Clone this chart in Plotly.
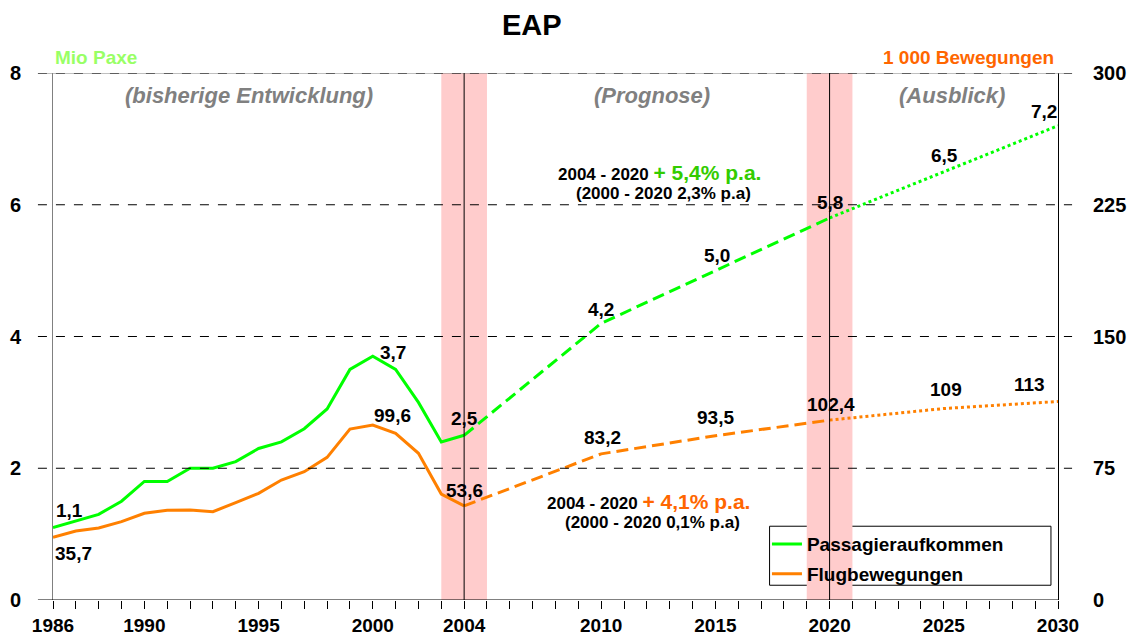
import plotly.graph_objects as go

# historische Entwicklung 1986-2004
years_hist = list(range(1986, 2005))
pax_hist = [1.1, 1.2, 1.3, 1.5, 1.8, 1.8, 2.0, 2.0, 2.1, 2.3, 2.4, 2.6, 2.9, 3.5, 3.7, 3.5, 3.0, 2.4, 2.5]
mov_hist = [35.7, 39.3, 41.0, 44.6, 49.4, 51.1, 51.2, 50.3, 55.4, 60.7, 68.3, 73.0, 81.2, 97.3, 99.6, 94.9, 83.5, 60.3, 53.6]

# Prognose 2004-2020
years_prog = [2004, 2010, 2015, 2020]
pax_prog = [2.5, 4.2, 5.0, 5.8]
mov_prog = [53.6, 83.2, 93.5, 102.4]

# Ausblick 2020-2030
years_out = [2020, 2025, 2030]
pax_out = [5.8, 6.5, 7.2]
mov_out = [102.4, 109, 113]

tick_years = [1986, 1990, 1995, 2000, 2004, 2010, 2015, 2020, 2025, 2030]
left_ticks = [0, 2, 4, 6, 8]
right_ticks = [0, 75, 150, 225, 300]

GREEN = "#00FF00"
ORANGE = "#FF8000"
FONT = "Arial, Liberation Sans, sans-serif"
DASH = "12px,6px"


def fmt(v):
    if float(v).is_integer() and v > 50:
        return str(int(v))
    return f"{v:.1f}".replace(".", ",")


fig = go.Figure()

# lines: solid / dashed / dotted segments
for xs, ys, dash, show in [(years_hist, pax_hist, "solid", True),
                           (years_prog, pax_prog, DASH, False),
                           (years_out, pax_out, "dot", False)]:
    fig.add_trace(go.Scatter(x=xs, y=ys, mode="lines", name="<b>Passagieraufkommen</b>",
                             line=dict(color=GREEN, width=3, dash=dash),
                             showlegend=show, legendgroup="pax", yaxis="y"))
for xs, ys, dash, show in [(years_hist, mov_hist, "solid", True),
                           (years_prog, mov_prog, DASH, False),
                           (years_out, mov_out, "dot", False)]:
    fig.add_trace(go.Scatter(x=xs, y=ys, mode="lines", name="<b>Flugbewegungen</b>",
                             line=dict(color=ORANGE, width=3, dash=dash),
                             showlegend=show, legendgroup="mov", yaxis="y2"))

shapes = []
# shaded bands
for a, b in [(2003, 2005), (2019, 2021)]:
    shapes.append(dict(type="rect", xref="x", yref="y", x0=a, x1=b, y0=0, y1=8,
                       fillcolor="#FFCCCC", line=dict(width=0), layer="below"))
# dashed grid lines (extend beyond plot)
shapes.append(dict(type="line", xref="paper", yref="y", x0=-0.015, x1=1.014, y0=8, y1=8,
                   line=dict(color="#808080", width=1)))
for v in left_ticks[1:]:
    shapes.append(dict(type="line", xref="paper", yref="y", x0=-0.015, x1=1.014, y0=v, y1=v,
                       line=dict(color="black", width=1, dash="dash")))
# vertical lines
for yr in [2004, 2020]:
    shapes.append(dict(type="line", xref="x", yref="y", x0=yr, x1=yr, y0=0, y1=8,
                       line=dict(color="black", width=1)))
# x axis line extended to the left
shapes.append(dict(type="line", xref="paper", yref="y", x0=-0.015, x1=1.0, y0=0, y1=0,
                   line=dict(color="black", width=1)))
# legend frame
shapes.append(dict(type="rect", xref="paper", yref="paper", x0=0.713, x1=0.993, y0=0.028, y1=0.140,
                   line=dict(color="black", width=1), fillcolor="white", layer="below"))

annotations = []
lbl_font = dict(family=FONT, size=19, color="black")


def note(x, y, text, size, color="black", xanchor="center"):
    return dict(x=x, y=y, xref="paper", yref="paper", text=text, showarrow=False,
                xanchor=xanchor, yanchor="middle", font=dict(family=FONT, size=size, color=color))


# data labels (passengers)
pax_lbl = [(1986, pax_hist[0], 16, 17), (2000, pax_hist[14], 20, 4), (2004, pax_hist[18], 0, 17),
           (2010, pax_prog[1], 0, 14), (2015, pax_prog[2], 2, 15), (2020, pax_prog[3], 0, 15),
           (2025, pax_out[1], 1, 16), (2030, pax_out[2], -14, 14)]
for x, y, dx, dy in pax_lbl:
    annotations.append(dict(x=x, y=y, xref="x", yref="y", text=f"<b>{fmt(y)}</b>", showarrow=False,
                            xanchor="center", yanchor="middle", xshift=dx, yshift=dy, font=lbl_font))
mov_lbl = [(1986, mov_hist[0], 20, -16), (2000, mov_hist[14], 20, 10), (2004, mov_hist[18], 0, 15),
           (2010, mov_prog[1], 1, 16), (2015, mov_prog[2], 0, 18), (2020, mov_prog[3], 1, 16),
           (2025, mov_out[1], 2, 19), (2030, mov_out[2], -29, 17)]
for x, y, dx, dy in mov_lbl:
    annotations.append(dict(x=x, y=y, xref="x", yref="y2", text=f"<b>{fmt(y)}</b>", showarrow=False,
                            xanchor="center", yanchor="middle", xshift=dx, yshift=dy, font=lbl_font))

# title and axis captions
annotations += [
    note(0.477, 1.091, "<b>EAP</b>", 29),
    note(0.0, 1.030, "<b>Mio Paxe</b>", 19, "#99FF66", "left"),
    note(0.998, 1.030, "<b>1 000 Bewegungen</b>", 19, "#FF6600", "right"),
]
# period captions
for txt, px in [("(bisherige Entwicklung)", 0.195), ("(Prognose)", 0.596), ("(Ausblick)", 0.8945)]:
    annotations.append(note(px, 0.958, f"<b><i>{txt}</i></b>", 22, "#808080"))
# growth rates
annotations += [
    note(0.603, 0.812, "<b>2004 - 2020 <span style='color:#33CC00;font-size:21px'>+ 5,4% p.a.</span></b>", 17),
    note(0.607, 0.772, "<b>(2000 - 2020 2,3% p.a)</b>", 17),
    note(0.593, 0.186, "<b>2004 - 2020 <span style='color:#FF6600;font-size:21px'>+ 4,1% p.a.</span></b>", 17),
    note(0.597, 0.148, "<b>(2000 - 2020 0,1% p.a)</b>", 17),
]

fig.update_layout(
    width=1130, height=640,
    margin=dict(l=53, r=72, t=73, b=40),
    paper_bgcolor="white", plot_bgcolor="white",
    font=dict(family=FONT, color="black"),
    shapes=shapes, annotations=annotations,
    showlegend=True,
    legend=dict(x=0.7104, y=0.142, xanchor="left", yanchor="top", bgcolor="rgba(0,0,0,0)",
                borderwidth=0, font=dict(family=FONT, size=19, color="black"),
                itemwidth=30, tracegroupgap=2),
    xaxis=dict(range=[1986, 2030], tickvals=list(range(1986, 2031)),
               ticktext=[f"<b>{y}</b>" if y in tick_years else "" for y in range(1986, 2031)],
               ticks="outside", ticklen=8, tickcolor="black", showgrid=False, zeroline=False,
               showline=False, automargin=False,
               tickfont=dict(family=FONT, size=19, color="black")),
    yaxis=dict(range=[0, 8], tickvals=left_ticks, ticktext=[f"<b>{v}</b>" for v in left_ticks],
               showgrid=False, zeroline=False, showline=True, linecolor="#808080", linewidth=1,
               ticks="", ticklabelstandoff=27, automargin=False,
               tickfont=dict(family=FONT, size=20, color="black")),
    yaxis2=dict(range=[0, 300], tickvals=right_ticks, ticktext=[f"<b>{v}</b>" for v in right_ticks],
                overlaying="y", side="right", showgrid=False, zeroline=False, showline=True,
                linecolor="black", linewidth=1, ticks="", ticklabelstandoff=30, automargin=False,
                tickfont=dict(family=FONT, size=20, color="black")),
)

# drop the default 8px body margin so the figure fills the window exactly
fig.write_html("out.html", config={"displayModeBar": False},
               post_script="document.body.style.margin='0';document.body.style.overflow='hidden';")
